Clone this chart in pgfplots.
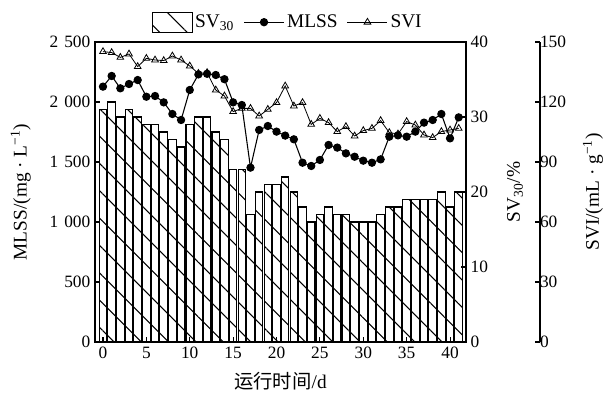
\documentclass[border=0pt]{standalone}
\usepackage{fontspec}
\setmainfont{Liberation Serif}
\newfontfamily\cjk{Noto Sans CJK SC}
\usepackage{pgfplots}
\usepackage{pgfplotstable}
\pgfplotsset{compat=1.18}
\usetikzlibrary{patterns.meta}

\pgfplotstableread{
x sv mlss svi
0 31 2128 145.2
1 32 2217 144.7
2 30 2114 142.3
3 31 2150 144.0
4 30 2183 137.7
5 29 2044 141.8
6 29 2050 141.0
7 28 1997 140.7
8 27 1900 143.0
9 26 1850 141.0
10 29 2100 138.0
11 30 2230 134.3
12 30 2235 134.7
13 28 2225 126.0
14 27 2190 123.0
15 23 1997 115.2
16 23 1975 116.8
17 17 1453 116.8
18 20 1767 113.0
19 21 1800 116.3
20 21 1753 119.7
21 22 1720 128.0
22 20 1689 118.0
23 18 1494 119.7
24 16 1467 108.8
25 17 1517 111.8
26 18 1642 109.7
27 17 1620 105.2
28 17 1572 107.7
29 16 1544 103.0
30 16 1511 105.7
31 16 1494 106.8
32 17 1522 110.7
33 18 1711 104.7
34 18 1722 104.0
35 19 1711 110.2
36 19 1753 108.5
37 19 1828 103.5
38 19 1850 102.2
39 20 1900 105.2
40 18 1697 106.0
41 20 1872 106.8
}\datatable

\pgfplotsset{
  lineleg/.style={legend image code/.code={\draw[mark repeat=2,mark phase=2,##1] plot coordinates {(0pt,0pt) (15pt,0pt) (30pt,0pt)};}},
  base/.style={
    width=278.25pt, height=225pt, scale only axis,
    xmin=-0.92, xmax=41.84,
    at={(0,0)}, anchor=south west,
    tick align=inside,
    axis line style={line width=0.8pt},
    major tick style={line width=0.8pt, black},
    major tick length=4pt,
    tick label style={font=\fontsize{13}{15}\selectfont},
    label style={font=\fontsize{14.5}{17}\selectfont},
    /pgf/number format/assume math mode=true,
    /pgf/number format/1000 sep={\hspace{0.35em}},
  },
}

\begin{document}
\begin{tikzpicture}
\useasboundingbox (-71.25pt,-37.5pt) rectangle (382.5pt,256.5pt);
% SV30 bars
\begin{axis}[base,
  axis y line*=right, axis x line=none,
  ymin=0, ymax=40, ytick={0,10,20,30,40},
  ylabel={SV\textsubscript{30}/\%},
  ylabel style={at={(axis description cs:1.132,0.5)}, anchor=center},
]
\addplot[ybar, bar width=0.87, draw=black, line width=0.8pt,
  pattern={Lines[angle=-45,distance=14.5pt,line width=0.8pt]}] table[x=x, y=sv] {\datatable};
\end{axis}
% MLSS
\begin{axis}[base,
  ymin=0, ymax=2500, ytick={0,500,...,2500},
  xtick={0,5,...,40}, xtick pos=left, ytick pos=left,
  xlabel={{\cjk 运行时间}/d},
  xlabel style={at={(axis description cs:0.5,-0.13)}, anchor=center},
  ylabel={MLSS/(mg · L\textsuperscript{−1})},
  ylabel style={at={(axis description cs:-0.2,0.5)}, anchor=center},
]
\addplot[black, line width=0.8pt, mark=*, mark size=2.7pt] table[x=x, y=mlss] {\datatable};
\end{axis}
% SVI
\begin{axis}[base,
  axis y line*=right, axis x line=none,
  ymin=0, ymax=150, ytick={0,30,...,150},
  every outer y axis line/.append style={xshift=55.5pt},
  every y tick/.append style={xshift=55.5pt},
  every y tick label/.append style={xshift=52pt},
  ylabel={SVI/(mL · g\textsuperscript{−1})},
  ylabel style={at={(axis description cs:1.342,0.5)}, anchor=center},
  legend columns=3,
  legend style={draw=none, fill=none, at={(axis description cs:0.52,1.066)}, anchor=center,
    font=\fontsize{14.5}{17}\selectfont,
    /tikz/every even column/.append style={column sep=5pt}},
]
\addlegendimage{legend image code/.code={\draw[line width=0.8pt, pattern={Lines[angle=-45,distance=14.5pt,line width=0.8pt]}] (0pt,-7.5pt) rectangle (30pt,7.5pt);}}
\addlegendentry{SV\textsubscript{30}}
\addlegendimage{black, line width=0.8pt, mark=*, mark size=2.7pt, lineleg}
\addlegendentry{MLSS}
\addlegendimage{black, line width=0.6pt, mark=triangle, mark options={fill=white, solid}, mark size=2.9pt, lineleg}
\addlegendentry{SVI}
\addplot[black, line width=0.6pt, mark=triangle, mark options={fill=white, solid}, mark size=2.9pt] table[x=x, y=svi] {\datatable};
\end{axis}
\end{tikzpicture}
\end{document}
